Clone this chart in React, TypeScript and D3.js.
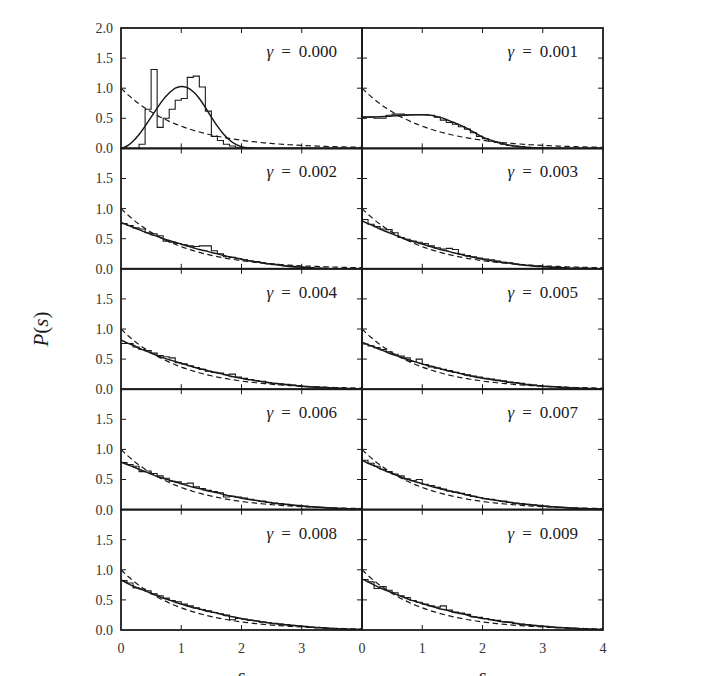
import React from "react";
import * as d3 from "d3";

const gammas = ["0.000", "0.001", "0.002", "0.003", "0.004", "0.005", "0.006", "0.007", "0.008", "0.009"];
const sStep = 0.1;
const xTicks = [0, 1, 2, 3, 4];
const yTicks = [0, 0.5, 1.0, 1.5, 2.0];

// Poisson reference (dashed), sampled every 0.1
const poisson = [1.0, 0.905, 0.819, 0.741, 0.67, 0.607, 0.549, 0.497, 0.449, 0.407,
  0.368, 0.333, 0.301, 0.273, 0.247, 0.223, 0.202, 0.183, 0.165, 0.15,
  0.135, 0.122, 0.111, 0.1, 0.091, 0.082, 0.074, 0.067, 0.061, 0.055,
  0.05, 0.045, 0.041, 0.037, 0.033, 0.03, 0.027, 0.025, 0.022, 0.02, 0.018];

// histograms (bin width 0.1, 40 bins)
const hist0 = [0, 0, 0, 0.07, 0.65, 1.31, 0.35, 0.5, 0.65, 0.8,
  0.83, 1.18, 1.2, 1.02, 0.62, 0.2, 0.13, 0.07, 0.04, 0.02,
  0.01, 0, 0, 0, 0, 0, 0, 0, 0, 0, 0, 0, 0, 0, 0, 0, 0, 0, 0, 0];
const hist1 = [0.52, 0.52, 0.5, 0.5, 0.55, 0.57, 0.57, 0.56, 0.56, 0.56,
  0.56, 0.55, 0.52, 0.47, 0.43, 0.4, 0.36, 0.32, 0.26, 0.2,
  0.16, 0.12, 0.1, 0.07, 0.05, 0.04, 0.03, 0.02, 0.015, 0.01,
  0.005, 0, 0, 0, 0, 0, 0, 0, 0, 0];
const hist2 = [0.75, 0.72, 0.68, 0.66, 0.6, 0.58, 0.55, 0.46, 0.44, 0.42,
  0.4, 0.38, 0.37, 0.38, 0.38, 0.3, 0.25, 0.2, 0.19, 0.17,
  0.15, 0.13, 0.12, 0.1, 0.08, 0.07, 0.06, 0.05, 0.04, 0.03,
  0.02, 0.02, 0.01, 0.01, 0, 0, 0, 0, 0, 0];
const hist3 = [0.82, 0.74, 0.7, 0.66, 0.65, 0.6, 0.52, 0.49, 0.46, 0.44,
  0.42, 0.38, 0.35, 0.33, 0.34, 0.32, 0.24, 0.22, 0.2, 0.18,
  0.16, 0.15, 0.13, 0.11, 0.1, 0.08, 0.07, 0.06, 0.05, 0.04,
  0.03, 0.03, 0.02, 0.02, 0.01, 0.01, 0.01, 0, 0, 0];
const hist4 = [0.76, 0.76, 0.7, 0.66, 0.64, 0.6, 0.56, 0.54, 0.52, 0.44,
  0.42, 0.39, 0.36, 0.33, 0.3, 0.28, 0.27, 0.24, 0.25, 0.2,
  0.18, 0.16, 0.14, 0.13, 0.11, 0.1, 0.09, 0.08, 0.07, 0.06,
  0.05, 0.04, 0.03, 0.03, 0.02, 0.02, 0.015, 0.01, 0.01, 0.01];
const hist5 = [0.75, 0.72, 0.69, 0.66, 0.62, 0.58, 0.55, 0.52, 0.46, 0.5,
  0.41, 0.37, 0.35, 0.33, 0.31, 0.28, 0.26, 0.24, 0.22, 0.2,
  0.18, 0.17, 0.15, 0.14, 0.12, 0.11, 0.1, 0.08, 0.07, 0.06,
  0.05, 0.04, 0.04, 0.03, 0.02, 0.02, 0.015, 0.01, 0.01, 0.01];
const hist6 = [0.78, 0.75, 0.72, 0.63, 0.64, 0.6, 0.56, 0.52, 0.47, 0.46,
  0.43, 0.44, 0.38, 0.35, 0.32, 0.3, 0.28, 0.21, 0.22, 0.21,
  0.19, 0.17, 0.15, 0.14, 0.12, 0.11, 0.1, 0.09, 0.07, 0.07,
  0.06, 0.05, 0.04, 0.04, 0.03, 0.02, 0.02, 0.015, 0.01, 0.01];
const hist7 = [0.82, 0.77, 0.72, 0.67, 0.63, 0.59, 0.56, 0.51, 0.48, 0.5,
  0.42, 0.4, 0.37, 0.34, 0.31, 0.29, 0.27, 0.25, 0.22, 0.2,
  0.18, 0.17, 0.15, 0.14, 0.12, 0.11, 0.1, 0.09, 0.08, 0.07,
  0.06, 0.05, 0.04, 0.04, 0.03, 0.02, 0.02, 0.015, 0.01, 0.01];
const hist8 = [0.82, 0.78, 0.7, 0.68, 0.65, 0.6, 0.57, 0.53, 0.49, 0.47,
  0.43, 0.4, 0.37, 0.34, 0.32, 0.29, 0.27, 0.25, 0.17, 0.19,
  0.18, 0.16, 0.15, 0.13, 0.12, 0.11, 0.1, 0.09, 0.08, 0.07,
  0.06, 0.05, 0.04, 0.04, 0.03, 0.02, 0.02, 0.01, 0.01, 0.01];
const hist9 = [0.84, 0.8, 0.69, 0.72, 0.66, 0.62, 0.57, 0.54, 0.49, 0.46,
  0.43, 0.4, 0.38, 0.4, 0.33, 0.3, 0.28, 0.26, 0.22, 0.21,
  0.19, 0.17, 0.16, 0.14, 0.13, 0.11, 0.1, 0.09, 0.08, 0.07,
  0.06, 0.05, 0.04, 0.04, 0.03, 0.03, 0.02, 0.015, 0.01, 0.01];

// fitted curves (solid), sampled every 0.1 (41 points)
const fit0 = [0, 0.04, 0.12, 0.23, 0.37, 0.52, 0.67, 0.81, 0.92, 1.0,
  1.03, 1.01, 0.94, 0.83, 0.68, 0.52, 0.37, 0.24, 0.14, 0.07,
  0.03, 0.01, 0.005, 0, 0, 0, 0, 0, 0, 0, 0, 0, 0, 0, 0, 0, 0, 0, 0, 0, 0];
const fit1 = [0.52, 0.52, 0.523, 0.527, 0.532, 0.538, 0.544, 0.55, 0.555, 0.558,
  0.56, 0.555, 0.54, 0.515, 0.48, 0.44, 0.4, 0.355, 0.3, 0.245,
  0.19, 0.15, 0.115, 0.085, 0.06, 0.042, 0.03, 0.02, 0.014, 0.009,
  0.005, 0.003, 0.001, 0, 0, 0, 0, 0, 0, 0, 0];
const fit2 = [0.77, 0.73, 0.69, 0.65, 0.61, 0.57, 0.54, 0.5, 0.47, 0.44,
  0.41, 0.38, 0.35, 0.32, 0.3, 0.27, 0.25, 0.22, 0.2, 0.18,
  0.16, 0.14, 0.12, 0.11, 0.09, 0.08, 0.07, 0.05, 0.04, 0.03,
  0.03, 0.02, 0.01, 0.01, 0.005, 0, 0, 0, 0, 0, 0];
const fit3 = [0.8, 0.75, 0.71, 0.66, 0.62, 0.58, 0.54, 0.5, 0.47, 0.44,
  0.41, 0.38, 0.35, 0.32, 0.3, 0.27, 0.25, 0.22, 0.2, 0.18,
  0.16, 0.14, 0.13, 0.11, 0.1, 0.09, 0.07, 0.06, 0.05, 0.04,
  0.04, 0.03, 0.02, 0.02, 0.01, 0.01, 0.01, 0.005, 0.003, 0.002, 0.001];
const fit4 = [0.82, 0.77, 0.73, 0.68, 0.64, 0.6, 0.56, 0.52, 0.49, 0.46,
  0.43, 0.4, 0.37, 0.34, 0.32, 0.29, 0.27, 0.25, 0.22, 0.2,
  0.18, 0.16, 0.15, 0.13, 0.12, 0.1, 0.09, 0.08, 0.07, 0.06,
  0.05, 0.04, 0.035, 0.03, 0.025, 0.02, 0.015, 0.012, 0.01, 0.008, 0.006];
const fit5 = [0.78, 0.74, 0.7, 0.66, 0.62, 0.58, 0.55, 0.51, 0.48, 0.45,
  0.42, 0.39, 0.37, 0.34, 0.31, 0.29, 0.27, 0.24, 0.22, 0.2,
  0.18, 0.17, 0.15, 0.14, 0.12, 0.11, 0.1, 0.08, 0.07, 0.06,
  0.05, 0.045, 0.04, 0.03, 0.025, 0.02, 0.015, 0.012, 0.01, 0.008, 0.006];
const fit6 = [0.79, 0.75, 0.71, 0.67, 0.63, 0.59, 0.55, 0.52, 0.49, 0.46,
  0.43, 0.4, 0.37, 0.35, 0.32, 0.3, 0.28, 0.25, 0.23, 0.21,
  0.19, 0.17, 0.16, 0.14, 0.13, 0.11, 0.1, 0.09, 0.08, 0.07,
  0.06, 0.05, 0.045, 0.04, 0.03, 0.025, 0.02, 0.015, 0.012, 0.01, 0.008];
const fit7 = [0.82, 0.77, 0.73, 0.68, 0.64, 0.6, 0.56, 0.52, 0.49, 0.46,
  0.43, 0.4, 0.37, 0.35, 0.32, 0.3, 0.28, 0.25, 0.23, 0.21,
  0.19, 0.17, 0.16, 0.14, 0.13, 0.11, 0.1, 0.09, 0.08, 0.07,
  0.06, 0.05, 0.045, 0.04, 0.03, 0.025, 0.02, 0.015, 0.012, 0.01, 0.008];
const fit8 = [0.83, 0.78, 0.73, 0.69, 0.65, 0.61, 0.57, 0.53, 0.5, 0.46,
  0.43, 0.4, 0.37, 0.35, 0.32, 0.3, 0.28, 0.25, 0.23, 0.21,
  0.19, 0.17, 0.16, 0.14, 0.13, 0.11, 0.1, 0.09, 0.08, 0.07,
  0.06, 0.05, 0.045, 0.04, 0.03, 0.025, 0.02, 0.015, 0.012, 0.01, 0.008];
const fit9 = [0.85, 0.8, 0.75, 0.7, 0.66, 0.62, 0.58, 0.54, 0.5, 0.47,
  0.44, 0.41, 0.38, 0.35, 0.33, 0.3, 0.28, 0.26, 0.23, 0.21,
  0.19, 0.18, 0.16, 0.14, 0.13, 0.12, 0.1, 0.09, 0.08, 0.07,
  0.06, 0.055, 0.045, 0.04, 0.035, 0.03, 0.02, 0.015, 0.012, 0.01, 0.008];

const histograms = [hist0, hist1, hist2, hist3, hist4, hist5, hist6, hist7, hist8, hist9];
const fits = [fit0, fit1, fit2, fit3, fit4, fit5, fit6, fit7, fit8, fit9];

const INK = "#1a1a1a";
const FS = { fontFamily: '"Liberation Serif"' };

export default function App() {
  const W = 720, H = 676;
  const left = 121, top = 28, pw = 241, ph = 120.4;
  const tickLen = 5;

  const panels = gammas.map((g, i) => {
    const col = i % 2, row = Math.floor(i / 2);
    const x0 = left + col * pw;
    const y0 = top + row * ph;
    const x = d3.scaleLinear().domain([0, 4]).range([x0, x0 + pw]);
    const y = d3.scaleLinear().domain([0, 2]).range([y0 + ph, y0]);
    const mk = () => d3.line<[number, number]>().x(d => x(d[0])).y(d => y(d[1]));
    const hPts: [number, number][] = histograms[i].map((v, j) => [j * sStep, v] as [number, number]);
    hPts.push([4, histograms[i][histograms[i].length - 1]]);
    const histPath = mk().curve(d3.curveStepAfter)(hPts) || "";
    const fitPath = mk().curve(d3.curveMonotoneX)(
      fits[i].map((v, j) => [j * sStep, v] as [number, number])) || "";
    const poisPath = mk().curve(d3.curveMonotoneX)(
      poisson.map((v, j) => [j * sStep, v] as [number, number])) || "";
    return { g, i, col, row, x, y, x0, y0, histPath, fitPath, poisPath };
  });

  return (
    <svg width={W} height={H} style={{ position: "absolute", left: 0, top: 0, background: "#fff" }}>
      <defs>
        {panels.map(p => (
          <clipPath id={`clip${p.i}`} key={p.i}>
            <rect x={p.x0} y={p.y0} width={pw} height={ph} />
          </clipPath>
        ))}
      </defs>
      {panels.map(p => (
        <g key={p.i}>
          <g clipPath={`url(#clip${p.i})`} fill="none" stroke={INK}>
            <path d={p.poisPath} strokeWidth={1.2} strokeDasharray="5.5,3.5" />
            <path d={p.histPath} strokeWidth={1.1} />
            <path d={p.fitPath} strokeWidth={1.5} />
          </g>
          {xTicks.slice(1, -1).map(t => (
            <g key={"xt" + t} stroke={INK} strokeWidth={1}>
              <line x1={p.x(t)} x2={p.x(t)} y1={p.y0} y2={p.y0 + tickLen} />
              <line x1={p.x(t)} x2={p.x(t)} y1={p.y0 + ph} y2={p.y0 + ph - tickLen} />
            </g>
          ))}
          {yTicks.slice(1, -1).map(t => (
            <g key={"yt" + t} stroke={INK} strokeWidth={1}>
              <line x1={p.x0} x2={p.x0 + tickLen} y1={p.y(t)} y2={p.y(t)} />
              <line x1={p.x0 + pw} x2={p.x0 + pw - tickLen} y1={p.y(t)} y2={p.y(t)} />
            </g>
          ))}
          <rect x={p.x0} y={p.y0} width={pw} height={ph} fill="none" stroke={INK} strokeWidth={1.8} />
          <text x={p.x0 + pw - 25} y={p.y0 + 29} textAnchor="end" fontSize={17} fill={INK} style={FS}>
            <tspan fontStyle="italic">γ</tspan>
            <tspan dx={8}>=</tspan>
            <tspan dx={8}>{p.g}</tspan>
          </text>
          {p.col === 0 && yTicks.filter(t => t < 2 || p.row === 0).map(t => (
            <text key={"yl" + t} x={113} y={p.y(t)} dy="0.35em" textAnchor="end" fontSize={14} fill="#333" style={FS}>
              {t.toFixed(1)}
            </text>
          ))}
          {p.row === 4 && xTicks.filter(t => t < 4 || p.col === 1).map(t => (
            <text key={"xl" + t} x={p.x(t)} y={p.y0 + ph + 23} textAnchor="middle" fontSize={14} fill="#333" style={FS}>
              {t}
            </text>
          ))}
          {p.row === 4 && (
            <text x={p.x(2)} y={683} textAnchor="middle" fontSize={20} fontStyle="italic" fill={INK} style={FS}>s</text>
          )}
        </g>
      ))}
      <text transform={`translate(48,${top + 2.5 * ph}) rotate(-90)`} textAnchor="middle" fontSize={21} fill={INK} style={FS}>
        <tspan fontStyle="italic">P</tspan>
        <tspan>(</tspan>
        <tspan fontStyle="italic">s</tspan>
        <tspan>)</tspan>
      </text>
    </svg>
  );
}
